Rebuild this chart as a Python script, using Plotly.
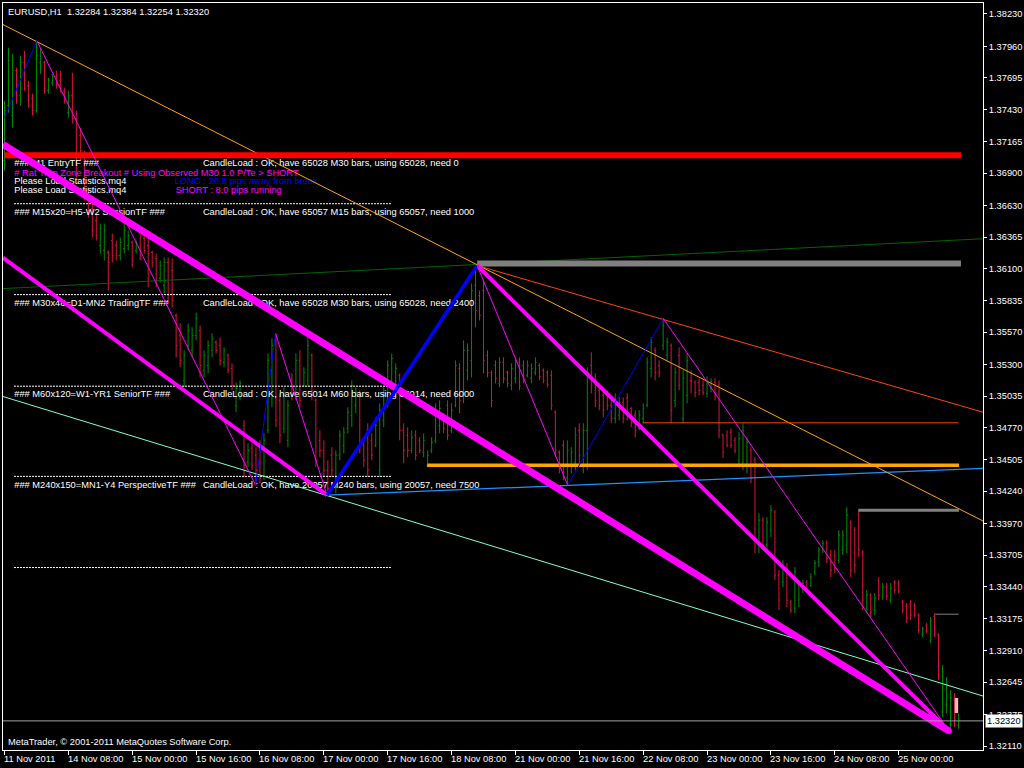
import plotly.graph_objects as go

# ---------------- EURUSD H1 bars (bar 0 = 11 Nov 2011 16:00) ----------------
bar_open = [
    1.37004, 1.37463, 1.37380, 1.37756, 1.37547, 1.37822, 1.37630, 1.37522, 1.37422, 1.37822,
    1.37822, 1.37588, 1.37655, 1.37705, 1.37672, 1.37588, 1.37405, 1.37547, 1.37355, 1.37213,
    1.37046, 1.36753, 1.36603, 1.36503, 1.36294, 1.36253, 1.36236, 1.36336, 1.36294, 1.36211,
    1.36269, 1.36294, 1.36319, 1.36253, 1.36403, 1.36353, 1.36294, 1.36236, 1.36186, 1.36019,
    1.35960, 1.36152, 1.36086, 1.35710, 1.35543, 1.35167, 1.35459, 1.35418, 1.35543, 1.35584,
    1.35251, 1.35292, 1.35418, 1.35484, 1.35459, 1.35317, 1.35376, 1.35267, 1.34958, 1.35067,
    1.34791, 1.34482, 1.34599, 1.34541, 1.34582, 1.34374, 1.34749, 1.35251, 1.35501, 1.35000,
    1.34766, 1.34666, 1.35184, 1.35042, 1.35334, 1.35125, 1.35167, 1.35376, 1.35000, 1.34666,
    1.34582, 1.34416, 1.34541, 1.34290, 1.34541, 1.34624, 1.34766, 1.34875, 1.34958, 1.35042,
    1.34624, 1.34749, 1.34666, 1.34624, 1.34416, 1.34833, 1.35000, 1.35167, 1.35125, 1.35209,
    1.34749, 1.34708, 1.34582, 1.34708, 1.34666, 1.34566, 1.34457, 1.34582, 1.34666, 1.34791,
    1.34875, 1.34958, 1.34749, 1.34958, 1.35267, 1.35042, 1.35251, 1.35334, 1.35960, 1.35877,
    1.35918, 1.35376, 1.35234, 1.35292, 1.35142, 1.35317, 1.35234, 1.35125, 1.35184, 1.35317,
    1.35292, 1.35209, 1.35184, 1.35234, 1.35292, 1.35251, 1.35234, 1.35209, 1.34900, 1.34566,
    1.34624, 1.34349, 1.34457, 1.34482, 1.34749, 1.34457, 1.34749, 1.35292, 1.35167, 1.35084,
    1.35042, 1.35042, 1.34958, 1.34850, 1.34875, 1.34983, 1.35017, 1.34933, 1.34875, 1.34766,
    1.34850, 1.34958, 1.35267, 1.35418, 1.35292, 1.35459, 1.35376, 1.35459, 1.35000, 1.35376,
    1.34850, 1.35042, 1.35167, 1.35150, 1.35150, 1.35125, 1.35058, 1.35100, 1.35150, 1.35125,
    1.34708, 1.34708, 1.34733, 1.34666, 1.34499, 1.34482, 1.34457, 1.34582, 1.34499, 1.33789,
    1.33998, 1.33789, 1.33914, 1.34065, 1.33539, 1.33480, 1.33597, 1.33313, 1.33263, 1.33330,
    1.33414, 1.33480, 1.33455, 1.33564, 1.33647, 1.33748, 1.33806, 1.33706, 1.33706, 1.33664,
    1.33748, 1.33789, 1.33981, 1.33914, 1.34040, 1.33731, 1.33263, 1.33372, 1.33247, 1.33497,
    1.33355, 1.33439, 1.33330, 1.33480, 1.33472, 1.33313, 1.33280, 1.33297, 1.33280, 1.33205,
    1.33046, 1.33121, 1.32996, 1.33196, 1.33038, 1.32395, 1.32453, 1.32286, 1.32495, 1.32284,
]
bar_high = [
    1.37505, 1.37948, 1.37897, 1.37781, 1.37881, 1.37922, 1.37672, 1.37563, 1.38006, 1.37939,
    1.37839, 1.37697, 1.37730, 1.37756, 1.37756, 1.37614, 1.37588, 1.37739, 1.37422, 1.37280,
    1.37088, 1.36779, 1.36645, 1.36561, 1.36478, 1.36478, 1.36253, 1.36394, 1.36336, 1.36361,
    1.36478, 1.36420, 1.36336, 1.36336, 1.36445, 1.36394, 1.36361, 1.36253, 1.36227, 1.36169,
    1.36194, 1.36194, 1.36186, 1.35726, 1.35643, 1.35418, 1.35643, 1.35610, 1.35735, 1.35626,
    1.35418, 1.35501, 1.35559, 1.35501, 1.35526, 1.35443, 1.35392, 1.35309, 1.35150, 1.35167,
    1.34833, 1.34641, 1.34641, 1.34608, 1.34666, 1.34724, 1.35392, 1.35518, 1.35559, 1.35058,
    1.35109, 1.35000, 1.35225, 1.35392, 1.35418, 1.35276, 1.35526, 1.35392, 1.35017, 1.34749,
    1.34666, 1.34499, 1.34608, 1.34582, 1.34749, 1.34775, 1.34942, 1.35167, 1.35109, 1.35084,
    1.34666, 1.34808, 1.34724, 1.34858, 1.34975, 1.35109, 1.35334, 1.35392, 1.35309, 1.35225,
    1.34808, 1.34775, 1.34749, 1.34749, 1.34691, 1.34724, 1.34582, 1.34691, 1.34975, 1.35000,
    1.34891, 1.35000, 1.34975, 1.35334, 1.35309, 1.35501, 1.35476, 1.35977, 1.36127, 1.35918,
    1.36002, 1.35418, 1.35251, 1.35334, 1.35359, 1.35359, 1.35251, 1.35309, 1.35359, 1.35359,
    1.35334, 1.35334, 1.35309, 1.35359, 1.35309, 1.35267, 1.35251, 1.35251, 1.34917, 1.34582,
    1.34666, 1.34666, 1.34608, 1.34775, 1.34808, 1.34808, 1.35276, 1.35401, 1.35225, 1.35142,
    1.35109, 1.35084, 1.35000, 1.35058, 1.35025, 1.35025, 1.35058, 1.34942, 1.34917, 1.34917,
    1.34975, 1.35359, 1.35526, 1.35443, 1.35334, 1.35685, 1.35526, 1.35476, 1.35276, 1.35443,
    1.35251, 1.35392, 1.35251, 1.35167, 1.35184, 1.35167, 1.35200, 1.35184, 1.35184, 1.35167,
    1.34724, 1.34749, 1.34766, 1.34691, 1.34733, 1.34808, 1.34691, 1.34608, 1.34524, 1.34056,
    1.34023, 1.34023, 1.34123, 1.34082, 1.33580, 1.33664, 1.33639, 1.33330, 1.33606, 1.33497,
    1.33497, 1.33497, 1.33555, 1.33664, 1.33773, 1.33831, 1.33831, 1.33748, 1.33748, 1.33914,
    1.33914, 1.34107, 1.33998, 1.33940, 1.34082, 1.33748, 1.33414, 1.33388, 1.33388, 1.33522,
    1.33472, 1.33472, 1.33472, 1.33497, 1.33497, 1.33330, 1.33305, 1.33330, 1.33305, 1.33221,
    1.33105, 1.33138, 1.33188, 1.33221, 1.33054, 1.32787, 1.32687, 1.32578, 1.32553, 1.32384,
]
bar_low = [
    1.36921, 1.37405, 1.37280, 1.37480, 1.37463, 1.37588, 1.37447, 1.37380, 1.37405, 1.37730,
    1.37563, 1.37563, 1.37630, 1.37605, 1.37572, 1.37480, 1.37363, 1.37313, 1.36862, 1.37004,
    1.36670, 1.36528, 1.36361, 1.36336, 1.36227, 1.36169, 1.35918, 1.36152, 1.36169, 1.36169,
    1.36227, 1.36253, 1.36111, 1.36227, 1.36169, 1.36227, 1.35944, 1.36111, 1.35944, 1.35985,
    1.35893, 1.35810, 1.35777, 1.35359, 1.35276, 1.35109, 1.35418, 1.35359, 1.35501, 1.35192,
    1.35192, 1.35225, 1.35359, 1.35392, 1.35292, 1.35276, 1.35225, 1.35084, 1.34900, 1.35000,
    1.34357, 1.34441, 1.34416, 1.34290, 1.34307, 1.34332, 1.34724, 1.34942, 1.34775, 1.34641,
    1.34724, 1.34608, 1.35000, 1.35000, 1.34942, 1.35109, 1.35109, 1.35000, 1.34441, 1.34524,
    1.34357, 1.34207, 1.34357, 1.34223, 1.34499, 1.34557, 1.34724, 1.34775, 1.34891, 1.34557,
    1.34441, 1.34357, 1.34499, 1.34608, 1.34357, 1.34775, 1.34942, 1.35109, 1.35058, 1.34666,
    1.34474, 1.34524, 1.34557, 1.34499, 1.34557, 1.34524, 1.34441, 1.34557, 1.34641, 1.34724,
    1.34724, 1.34666, 1.34724, 1.34942, 1.34891, 1.34975, 1.35167, 1.35192, 1.35610, 1.35668,
    1.35225, 1.35192, 1.34942, 1.35142, 1.35109, 1.35142, 1.35109, 1.35084, 1.35142, 1.35084,
    1.35142, 1.35192, 1.35142, 1.35209, 1.35167, 1.35142, 1.35109, 1.34917, 1.34524, 1.34390,
    1.34332, 1.34290, 1.34390, 1.34416, 1.34474, 1.34390, 1.34416, 1.35058, 1.34942, 1.34917,
    1.34858, 1.34917, 1.34808, 1.34808, 1.34833, 1.34808, 1.34833, 1.34775, 1.34691, 1.34749,
    1.34808, 1.34942, 1.35192, 1.35167, 1.35192, 1.35418, 1.35334, 1.34808, 1.34942, 1.35084,
    1.34808, 1.34975, 1.35058, 1.35025, 1.35042, 1.35042, 1.35025, 1.35067, 1.35000, 1.34683,
    1.34516, 1.34608, 1.34599, 1.34557, 1.34441, 1.34416, 1.34390, 1.34307, 1.33722, 1.33722,
    1.33748, 1.33748, 1.33856, 1.33497, 1.33247, 1.33439, 1.33272, 1.33221, 1.33221, 1.33272,
    1.33388, 1.33388, 1.33439, 1.33539, 1.33606, 1.33722, 1.33639, 1.33522, 1.33555, 1.33639,
    1.33706, 1.33722, 1.33522, 1.33555, 1.33689, 1.33247, 1.33221, 1.33188, 1.33205, 1.33330,
    1.33330, 1.33330, 1.33305, 1.33388, 1.33388, 1.33221, 1.33138, 1.33163, 1.33188, 1.33054,
    1.33021, 1.33054, 1.32971, 1.33021, 1.32662, 1.32353, 1.32386, 1.32244, 1.32270, 1.32254,
]
bar_close = [
    1.37422, 1.37839, 1.37756, 1.37547, 1.37822, 1.37672, 1.37505, 1.37422, 1.37881, 1.37906,
    1.37605, 1.37672, 1.37705, 1.37639, 1.37588, 1.37505, 1.37547, 1.37355, 1.36962, 1.37088,
    1.36753, 1.36587, 1.36420, 1.36378, 1.36436, 1.36420, 1.36152, 1.36211, 1.36211, 1.36319,
    1.36420, 1.36378, 1.36169, 1.36311, 1.36211, 1.36253, 1.36227, 1.36152, 1.36002, 1.36127,
    1.36152, 1.35877, 1.35835, 1.35459, 1.35334, 1.35376, 1.35584, 1.35543, 1.35685, 1.35292,
    1.35376, 1.35459, 1.35518, 1.35418, 1.35334, 1.35418, 1.35251, 1.35125, 1.35100, 1.35142,
    1.34457, 1.34582, 1.34457, 1.34416, 1.34349, 1.34666, 1.35334, 1.35459, 1.34833, 1.34708,
    1.35042, 1.34958, 1.35042, 1.35334, 1.35000, 1.35234, 1.35459, 1.35042, 1.34499, 1.34582,
    1.34416, 1.34265, 1.34416, 1.34541, 1.34708, 1.34733, 1.34900, 1.35125, 1.35067, 1.34624,
    1.34499, 1.34416, 1.34541, 1.34791, 1.34917, 1.35042, 1.35292, 1.35351, 1.35267, 1.34749,
    1.34582, 1.34582, 1.34691, 1.34541, 1.34582, 1.34666, 1.34541, 1.34649, 1.34917, 1.34933,
    1.34766, 1.34708, 1.34917, 1.35292, 1.35000, 1.35418, 1.35418, 1.35918, 1.35751, 1.35710,
    1.35334, 1.35234, 1.35000, 1.35184, 1.35317, 1.35184, 1.35142, 1.35267, 1.35317, 1.35125,
    1.35184, 1.35292, 1.35267, 1.35317, 1.35200, 1.35167, 1.35134, 1.34958, 1.34582, 1.34432,
    1.34399, 1.34582, 1.34566, 1.34708, 1.34541, 1.34749, 1.35234, 1.35125, 1.35000, 1.34958,
    1.34917, 1.34958, 1.34850, 1.35000, 1.34983, 1.34850, 1.34900, 1.34816, 1.34749, 1.34875,
    1.34933, 1.35317, 1.35484, 1.35234, 1.35234, 1.35626, 1.35484, 1.34917, 1.35234, 1.35125,
    1.35184, 1.35334, 1.35159, 1.35067, 1.35084, 1.35067, 1.35150, 1.35159, 1.35042, 1.34749,
    1.34566, 1.34624, 1.34624, 1.34582, 1.34683, 1.34749, 1.34649, 1.34349, 1.33831, 1.33998,
    1.33789, 1.33981, 1.34082, 1.33539, 1.33330, 1.33622, 1.33330, 1.33247, 1.33564, 1.33455,
    1.33472, 1.33414, 1.33522, 1.33639, 1.33748, 1.33806, 1.33681, 1.33580, 1.33597, 1.33873,
    1.33873, 1.34040, 1.33580, 1.33622, 1.33748, 1.33330, 1.33372, 1.33230, 1.33347, 1.33372,
    1.33439, 1.33363, 1.33430, 1.33414, 1.33405, 1.33247, 1.33180, 1.33205, 1.33213, 1.33079,
    1.33088, 1.33071, 1.33163, 1.33054, 1.32704, 1.32729, 1.32620, 1.32512, 1.32328, 1.32320,
]

# ---------------- axis labels ----------------
price_ticks = [1.38230, 1.37960, 1.37695, 1.37430, 1.37165, 1.36900, 1.36630, 1.36365,
               1.36100, 1.35835, 1.35570, 1.35300, 1.35035, 1.34770, 1.34505, 1.34240,
               1.33970, 1.33705, 1.33440, 1.33175, 1.32910, 1.32645, 1.32375, 1.32110]
time_tick_bars = [0, 16, 32, 48, 64, 80, 96, 112, 128, 144, 160, 176, 192, 208, 224]
time_tick_labels = ["11 Nov 2011", "14 Nov 08:00", "15 Nov 00:00", "15 Nov 16:00",
                    "16 Nov 08:00", "17 Nov 00:00", "17 Nov 16:00", "18 Nov 08:00",
                    "21 Nov 00:00", "21 Nov 16:00", "22 Nov 08:00", "23 Nov 00:00",
                    "23 Nov 16:00", "24 Nov 08:00", "25 Nov 00:00"]

# ---------------- drawn objects: (bar index, price) anchors ----------------
trend_orange = ([-0.4, 245.2], [1.38142, 1.33990])
trend_orangered = ([118.4, 245.2], [1.36127, 1.34900])
trend_darkgreen = ([-0.4, 245.2], [1.35934, 1.36351])
trend_aquamarine = ([-0.4, 245.2], [1.35032, 1.32527])
trend_dodgerblue = ([80.8, 245.2], [1.34207, 1.34431])
channel_main = ([-0.4, 236.6], [1.37140, 1.32236])
channel_lower = ([-0.4, 80.8], [1.36193, 1.34207])
channel_from_top = ([118.4, 236.6], [1.36127, 1.32236])

level_red = ([0.0, 239.6], 1.37048)
level_grey = ([118.4, 239.6], 1.36144)
level_orangered = ([159.9, 239.0], 1.34812)
level_orange = ([105.9, 239.1], 1.34457)
level_grey_short = ([213.9, 239.1], 1.34080)
level_grey_thin = ([233.2, 239.0], 1.33212)

zigzag_bars = [0.0, 8.1, 62.9, 67.9, 80.8, 118.4, 141.1, 165.0, 236.6]
zigzag_prices = [1.37363, 1.38006, 1.34290, 1.35559, 1.34207, 1.36127, 1.34290, 1.35685, 1.32236]
zigzag_style = [("#0000ff", 1), ("#ff00ff", 1), ("#0000ff", 1), ("#ff00ff", 1),
                ("#0000ff", 3.5), ("#ff00ff", 1), ("#0000ff", 1), ("#ff00ff", 1)]

spread_box = ([238.05, 238.9], [1.32386, 1.32512])

# ---------------- geometry ----------------
W, H = 1024, 768
PL, PR, PT, PB = 2, 984, 2, 750
PX_PER_BAR = 4.0
X0 = -0.375
X1 = X0 + (PR - PL) / PX_PER_BAR
PRICE_PER_PX = 0.0612 / 733.0
Y1 = 1.38230 + 11 * PRICE_PER_PX
Y0 = Y1 - (PB - PT) * PRICE_PER_PX

FONT = "Liberation Sans"
FS = 9.3


def px_x(px):
    return X0 + (px - PL) / PX_PER_BAR


def px_y(py):
    return Y1 - (py - PT) * PRICE_PER_PX


fig = go.Figure()

# ---- indicator text panel (sits underneath the chart objects) ----
rows = [
    (163.3, [(13.3, "### M1 EntryTF ###", "white"),
             (202.3, "CandleLoad : OK, have 65028 M30 bars, using 65028, need 0", "white")]),
    (172.7, [(13.3, "# Rat Trap Zone Breakout # Using Observed M30 1.0 P/Te > SHORT", "#ff00ff")]),
    (181.0, [(13.3, "Please Load Statistics.mq4", "white"),
             (174.0, "LONG : 20.5 pips away from break", "#0000ff")]),
    (190.0, [(13.3, "Please Load Statistics.mq4", "white"),
             (175.0, "SHORT : 8.0 pips running", "#ff00ff")]),
    (212.0, [(13.3, "### M15x20=H5-W2 SessionTF ###", "white"),
             (202.3, "CandleLoad : OK, have 65057 M15 bars, using 65057, need 1000", "white")]),
    (303.3, [(13.3, "### M30x48=D1-MN2 TradingTF ###", "white"),
             (202.3, "CandleLoad : OK, have 65028 M30 bars, using 65028, need 2400", "white")]),
    (394.0, [(13.3, "### M60x120=W1-YR1 SeniorTF ###", "white"),
             (202.3, "CandleLoad : OK, have 65014 M60 bars, using 65014, need 6000", "white")]),
    (485.0, [(13.3, "### M240x150=MN1-Y4 PerspectiveTF ###", "white"),
             (202.3, "CandleLoad : OK, have 20057 M240 bars, using 20057, need 7500", "white")]),
]
for ypx, items in rows:
    for xpx, txt, col in items:
        fig.add_trace(go.Scatter(
            x=[px_x(xpx)], y=[px_y(ypx)], mode="text", text=[txt],
            textposition="middle right",
            textfont=dict(family=FONT, size=FS, color=col),
            hoverinfo="skip", cliponaxis=False))

for ypx in [203.0, 294.0, 385.7, 476.0, 567.3]:
    fig.add_trace(go.Scatter(
        x=[px_x(13), px_x(391)], y=[px_y(ypx), px_y(ypx)], mode="lines",
        line=dict(color="white", width=1, dash="2px,1px"), hoverinfo="skip"))

# ---- price bars ----
bar_index = list(range(len(bar_close)))
fig.add_trace(go.Ohlc(
    x=bar_index, open=bar_open, high=bar_high, low=bar_low, close=bar_close,
    increasing=dict(line=dict(color="#008c00", width=1)),
    decreasing=dict(line=dict(color="#dc143c", width=1)),
    tickwidth=0.3, hoverinfo="skip"))


def seg(xs, ys, color, width):
    fig.add_trace(go.Scatter(x=xs, y=ys, mode="lines",
                             line=dict(color=color, width=width),
                             hoverinfo="skip"))


# ---- trend lines ----
seg(*trend_aquamarine, "#7fffd4", 1)
seg(*trend_darkgreen, "#006400", 1)
seg(*trend_dodgerblue, "#1e90ff", 1.2)
seg(*trend_orange, "#ffa500", 1)
seg(*trend_orangered, "#ff4500", 1)

# ---- horizontal levels ----
for (xs, p), col, w in [(level_red, "#ff0000", 6), (level_grey, "#808080", 6),
                        (level_orangered, "#ff4500", 1), (level_orange, "#ffa500", 3.5),
                        (level_grey_short, "#808080", 3), (level_grey_thin, "#808080", 1)]:
    seg(xs, [p, p], col, w)

# ---- regression channel ----
seg(*channel_main, "#ff00ff", 7)
seg(*channel_lower, "#ff00ff", 4)
seg(*channel_from_top, "#ff00ff", 4)

# ---- zigzag ----
for k, (col, w) in enumerate(zigzag_style):
    seg(zigzag_bars[k:k + 2], zigzag_prices[k:k + 2], col, w)

fig.add_trace(go.Scatter(x=[channel_main[0][1]], y=[channel_main[1][1]], mode="markers",
                         marker=dict(color="#ff00ff", size=6), hoverinfo="skip"))

# ---- bid line ----
seg([X0, X1], [bar_close[-1], bar_close[-1]], "#a0a0a0", 1)

shapes = [dict(type="rect", xref="x", yref="y",
               x0=spread_box[0][0], x1=spread_box[0][1],
               y0=spread_box[1][0], y1=spread_box[1][1],
               fillcolor="#ffb6c1", line=dict(width=0), layer="above")]

annotations = []
for b, lab in zip(time_tick_bars, time_tick_labels):
    annotations.append(dict(x=b, xref="x", y=0, yref="paper", text=lab,
                            xanchor="left", yanchor="top", showarrow=False,
                            xshift=-2.5, yshift=-2,
                            font=dict(family=FONT, size=FS, color="white")))

annotations.append(dict(
    x=0, xref="paper", y=1, yref="paper", xanchor="left", yanchor="top",
    xshift=3, yshift=-1.5, showarrow=False,
    text="EURUSD,H1\u00a0\u00a0{:.5f} {:.5f} {:.5f} {:.5f}".format(
        bar_open[-1], bar_high[-1], bar_low[-1], bar_close[-1]),
    font=dict(family=FONT, size=FS, color="white")))
annotations.append(dict(
    x=0, xref="paper", y=0, yref="paper", xanchor="left", yanchor="bottom",
    xshift=3, yshift=1, showarrow=False,
    text="MetaTrader, \u00a9 2001-2011 MetaQuotes Software Corp.",
    font=dict(family=FONT, size=FS, color="white")))
annotations.append(dict(
    x=1, xref="paper", y=bar_close[-1], yref="y", xanchor="left", yanchor="middle",
    xshift=2, showarrow=False, text="{:.5f}".format(bar_close[-1]),
    bgcolor="white", borderpad=1,
    font=dict(family=FONT, size=FS, color="black")))

fig.update_layout(
    width=W, height=H, autosize=False,
    margin=dict(l=PL, r=W - PR, t=PT, b=H - PB, pad=0),
    paper_bgcolor="black", plot_bgcolor="black",
    showlegend=False, hovermode=False,
    shapes=shapes, annotations=annotations,
    xaxis=dict(range=[X0, X1], showgrid=False, zeroline=False,
               showline=True, mirror=True, linecolor="white", linewidth=1,
               ticks="outside", ticklen=4, tickcolor="white",
               tickmode="array", tickvals=time_tick_bars, showticklabels=False,
               rangeslider=dict(visible=False), fixedrange=True),
    yaxis=dict(range=[Y0, Y1], side="right", showgrid=False, zeroline=False,
               showline=True, mirror=True, linecolor="white", linewidth=1,
               ticks="outside", ticklen=3, tickcolor="white",
               tickmode="array", tickvals=price_ticks,
               ticktext=["{:.5f}".format(v) for v in price_ticks],
               tickfont=dict(family=FONT, size=FS, color="white"), fixedrange=True),
)

fig.write_html("out.html")
